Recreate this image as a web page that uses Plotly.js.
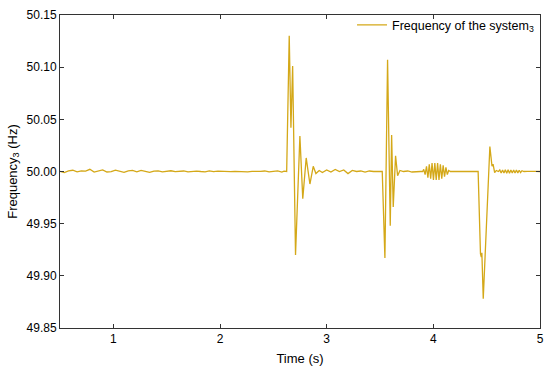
<!DOCTYPE html>
<html>
<head>
<meta charset="utf-8">
<script src="https://cdn.plot.ly/plotly-3.0.1.min.js"></script>
<style>html,body{margin:0;padding:0;background:#fff;}#chart{width:550px;height:375px;}</style>
</head>
<body>
<div id="chart"></div>
<script>
// Time (s)
const time = [
  0.50,0.54,0.58,0.62,0.66,0.70,0.74,0.78,0.82,0.86,0.90,0.94,0.98,1.02,1.06,1.10,1.14,1.18,1.22,1.26,
  1.30,1.34,1.38,1.42,1.46,1.50,1.54,1.58,1.62,1.66,1.70,1.74,1.78,1.82,1.86,1.90,1.94,1.98,2.02,2.06,
  2.10,2.14,2.18,2.22,2.26,2.30,2.34,2.38,2.42,2.46,2.50,2.54,2.58,2.60,2.625,
  2.649,2.665,2.681,2.708,2.749,2.776,2.808,2.843,2.874,2.899,2.93,
  2.96,3.00,3.04,3.08,3.12,3.16,3.20,3.24,3.28,3.32,3.36,3.40,3.44,3.48,3.521,
  3.546,3.571,3.596,3.609,3.624,3.646,3.665,3.687,3.72,3.76,3.80,3.84,3.88,
  3.900,3.910,3.923,3.936,3.949,3.962,3.975,3.988,4.001,4.014,4.027,4.040,4.053,4.066,4.079,4.092,4.105,4.118,4.131,4.144,4.16,
  4.20,4.25,4.30,4.35,4.40,4.420,
  4.442,4.450,4.455,4.468,4.530,4.550,4.560,4.575,4.59,
  4.610,4.623,4.636,4.649,4.662,4.675,4.688,4.701,4.714,4.727,4.740,4.753,4.766,4.779,4.792,4.805,4.818,4.831,4.85,
  4.88,4.92,4.96,5.00
];
// Frequency of the system 3 (Hz)
const freq = [
  50.0002,49.9990,50.0006,50.0012,49.9996,50.0005,50.0003,50.0021,49.9994,50.0008,50.0015,49.9995,49.9998,50.0013,50.0004,49.9992,50.0007,50.0010,49.9997,50.0011,
  50.0002,49.9991,50.0004,50.0006,49.9996,50.0003,50.0007,49.9998,50.0002,50.0005,49.9997,50.0001,50.0004,50.0000,49.9997,50.0006,49.9999,50.0003,50.0000,50.0004,
  49.9998,50.0002,49.9999,50.0003,49.9997,50.0002,49.9999,50.0001,50.0005,49.9996,50.0002,50.0006,49.9995,50.0003,50.0000,
  50.130,50.042,50.101,49.920,50.034,49.974,50.013,49.988,50.005,49.998,50.001,
  49.999,50.0015,49.9995,50.002,50.000,50.0015,49.998,50.001,50.000,50.0005,49.9995,50.0005,50.000,50.000,50.000,
  49.917,50.107,49.948,50.035,49.966,50.015,49.996,50.001,50.000,50.0005,49.9995,50.000,50.000,
  50.000,50.002,49.997,50.005,49.994,50.007,49.993,50.008,49.992,50.008,49.992,50.008,49.992,50.007,49.993,50.006,49.995,50.004,49.997,50.001,50.000,
  50.000,50.0003,49.9997,50.000,50.000,50.000,
  49.921,49.918,49.922,49.878,50.024,50.005,50.007,49.999,50.001,
  50.000,50.0015,49.9985,50.0015,49.9985,50.0016,49.9984,50.0016,49.9984,50.0015,49.9985,50.0015,49.9986,50.0014,49.9987,50.0012,49.9990,50.0008,50.000,
  50.0002,49.9998,50.0001,50.000
];
const seriesName = 'Frequency of the system<sub>3</sub>';
const xTicks = [1, 2, 3, 4, 5];
const yTicks = [49.85, 49.90, 49.95, 50.00, 50.05, 50.10, 50.15];

const font = {family: 'Liberation Sans, Arial, sans-serif', size: 12, color: '#000'};

Plotly.newPlot('chart', [{
  x: time, y: freq, type: 'scatter', mode: 'lines', name: seriesName,
  line: {color: '#D4A818', width: 1.3},
  showlegend: true
}], {
  width: 550, height: 375,
  margin: {l: 60, r: 10, t: 13, b: 47},
  paper_bgcolor: '#fff', plot_bgcolor: '#fff',
  font: font,
  showlegend: true,
  legend: {x: 0.998, y: 1.015, xanchor: 'right', yanchor: 'top', bgcolor: 'rgba(0,0,0,0)',
           font: {family: font.family, size: 12.5, color: '#000'}},
  xaxis: {
    range: [0.5, 5], tickvals: xTicks, ticktext: xTicks.map(String),
    ticks: 'inside', ticklen: 4, tickcolor: '#333', showline: true, linecolor: '#333', linewidth: 1,
    mirror: 'ticks', showgrid: false, zeroline: false,
    title: {text: 'Time (s)', font: {family: font.family, size: 13}, standoff: 8},
    tickfont: {family: font.family, size: 12}
  },
  yaxis: {
    range: [49.85, 50.15], tickvals: yTicks, ticktext: yTicks.map(v => v.toFixed(2)),
    ticks: 'inside', ticklen: 4, tickcolor: '#333', showline: true, linecolor: '#333', linewidth: 1,
    mirror: 'ticks', showgrid: false, zeroline: false,
    title: {text: 'Frequency<sub>3</sub> (Hz)', font: {family: font.family, size: 13}, standoff: 6},
    tickfont: {family: font.family, size: 12}
  }
}, {displayModeBar: false, staticPlot: true});
</script>
</body>
</html>
